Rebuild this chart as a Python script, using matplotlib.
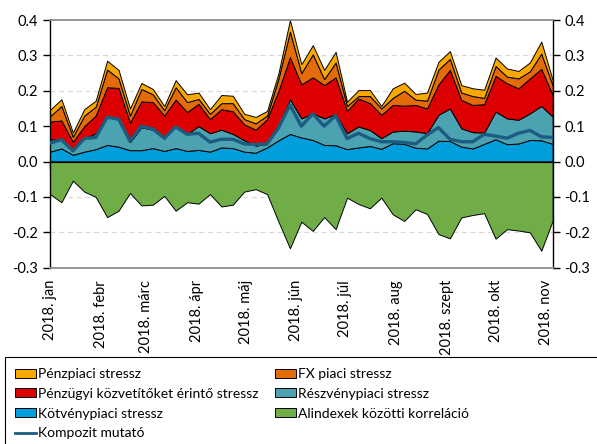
import matplotlib
matplotlib.use("Agg")
import matplotlib.pyplot as plt
import numpy as np
import pandas as pd
from matplotlib.patches import Patch, Rectangle
from matplotlib.lines import Line2D
import matplotlib.transforms as mtransforms

plt.rcParams["font.family"] = ["Lato", "DejaVu Sans"]

dates = pd.date_range("2018-01-05", periods=45, freq="7D")
month_ticks = pd.date_range("2018-01-05", periods=11, freq=pd.DateOffset(months=1))
month_labels = ["2018. jan", "2018. febr", "2018. márc", "2018. ápr", "2018. máj",
                "2018. jún", "2018. júl", "2018. aug", "2018. szept", "2018. okt", "2018. nov"]

kotveny = [0.028, 0.037, 0.019, 0.028, 0.035, 0.047, 0.042, 0.032, 0.032, 0.038, 0.030,
           0.038, 0.030, 0.033, 0.028, 0.040, 0.038, 0.028, 0.025, 0.040, 0.060, 0.078,
           0.068, 0.061, 0.047, 0.046, 0.035, 0.040, 0.044, 0.036, 0.052, 0.050, 0.039,
           0.037, 0.059, 0.058, 0.042, 0.037, 0.050, 0.063, 0.049, 0.051, 0.061, 0.060, 0.050]
reszveny = [0.035, 0.024, 0.014, 0.037, 0.045, 0.080, 0.078, 0.023, 0.065, 0.052, 0.035,
            0.062, 0.048, 0.067, 0.052, 0.050, 0.040, 0.032, 0.020, 0.010, 0.040, 0.098,
            0.054, 0.075, 0.075, 0.088, 0.045, 0.059, 0.045, 0.030, 0.033, 0.037, 0.046,
            0.043, 0.073, 0.092, 0.052, 0.046, 0.032, 0.078, 0.073, 0.067, 0.075, 0.097, 0.077]
kozvetito = [0.050, 0.055, 0.023, 0.035, 0.050, 0.083, 0.088, 0.055, 0.073, 0.078, 0.065,
             0.075, 0.062, 0.063, 0.040, 0.058, 0.064, 0.045, 0.045, 0.070, 0.100, 0.119,
             0.096, 0.102, 0.094, 0.104, 0.063, 0.079, 0.076, 0.066, 0.075, 0.071, 0.075,
             0.070, 0.086, 0.109, 0.080, 0.077, 0.080, 0.101, 0.099, 0.089, 0.099, 0.105, 0.061]
fx = [0.015, 0.041, 0.014, 0.030, 0.025, 0.050, 0.027, 0.020, 0.035, 0.022, 0.015,
      0.035, 0.028, 0.014, 0.015, 0.017, 0.023, 0.015, 0.018, 0.010, 0.035, 0.072,
      0.032, 0.065, 0.017, 0.042, 0.014, 0.007, 0.020, 0.018, 0.020, 0.042, 0.015,
      0.022, 0.042, 0.031, 0.021, 0.025, 0.018, 0.028, 0.019, 0.028, 0.020, 0.043, 0.027]
penzpiaci = [0.018, 0.019, 0.012, 0.018, 0.017, 0.025, 0.024, 0.020, 0.017, 0.015, 0.012,
             0.020, 0.022, 0.018, 0.013, 0.023, 0.021, 0.015, 0.018, 0.013, 0.015, 0.033,
             0.025, 0.026, 0.026, 0.030, 0.012, 0.017, 0.017, 0.007, 0.027, 0.023, 0.016,
             0.023, 0.022, 0.022, 0.021, 0.022, 0.023, 0.024, 0.023, 0.021, 0.025, 0.034, 0.015]
korrelacio = [-0.092, -0.115, -0.054, -0.085, -0.100, -0.157, -0.139, -0.089, -0.124, -0.122, -0.097,
              -0.139, -0.115, -0.119, -0.092, -0.127, -0.122, -0.085, -0.078, -0.092, -0.170, -0.245,
              -0.170, -0.196, -0.157, -0.191, -0.102, -0.120, -0.132, -0.102, -0.149, -0.168, -0.135,
              -0.148, -0.205, -0.217, -0.158, -0.151, -0.146, -0.218, -0.191, -0.195, -0.200, -0.252, -0.167]
kompozit = [0.052, 0.062, 0.030, 0.065, 0.068, 0.125, 0.120, 0.058, 0.100, 0.092, 0.066,
            0.098, 0.077, 0.080, 0.055, 0.063, 0.063, 0.050, 0.048, 0.050, 0.095, 0.160,
            0.100, 0.135, 0.100, 0.130, 0.065, 0.080, 0.065, 0.056, 0.056, 0.054, 0.050,
            0.075, 0.096, 0.063, 0.056, 0.056, 0.077, 0.072, 0.066, 0.080, 0.088, 0.070, 0.068]

C_PP = "#F9A800"
C_FX = "#E36C09"
C_KOZ = "#DC0000"
C_RESZ = "#4BA3B2"
C_KOTV = "#009EDB"
C_KORR = "#70AD47"
C_KOMP = "#1B5C80"

W, H = 597, 444
fig = plt.figure(figsize=(W / 100, H / 100), dpi=100)
ax = fig.add_axes([50 / W, 1 - 267.7 / H, 502.7 / W, 247.7 / H])

ax.stackplot(dates, kotveny, reszveny, kozvetito, fx, penzpiaci,
             colors=[C_KOTV, C_RESZ, C_KOZ, C_FX, C_PP],
             edgecolor="black", linewidth=0.7, zorder=2)
ax.fill_between(dates, korrelacio, 0, facecolor=C_KORR, edgecolor="black",
                linewidth=0.7, zorder=2)
ax.plot(dates, kompozit, color=C_KOMP, linewidth=2.4, zorder=3)

ax.set_xlim(dates[0], dates[-1])
ax.set_ylim(-0.3, 0.4)
yt = np.arange(-0.3, 0.41, 0.1)
ax.set_yticks(yt)
ax.set_yticklabels([f"{v:.1f}" for v in yt])
for v in [-0.2, -0.1, 0.1, 0.2, 0.3]:
    ax.axhline(v, color="#d9d9d9", linestyle=(0, (4, 3)), linewidth=0.9, zorder=1)

ax.spines["bottom"].set_position(("data", 0))
ax.spines["bottom"].set_zorder(4)
ax.spines["top"].set_color("#8c8c8c")
ax.spines["top"].set_linewidth(1.3)
ax.axhline(-0.3, color="#8c8c8c", linewidth=1.3, clip_on=False, zorder=4)
ax.spines["left"].set_linewidth(1.0)
ax.spines["right"].set_linewidth(1.0)

ax.set_xticks(month_ticks)
ax.tick_params(axis="x", direction="out", length=5, labelbottom=False, width=1.0)
ax.tick_params(axis="y", direction="out", length=5, left=True, right=True,
               labelleft=True, labelright=True, labelsize=10.5, width=1.0)

trans = mtransforms.blended_transform_factory(ax.transData, ax.transAxes)
for d, lab in zip(month_ticks, month_labels):
    ax.text(d, -0.05, lab, rotation=90, ha="center", va="top", fontsize=10.5,
            transform=trans)

handles = [
    Patch(facecolor=C_PP, edgecolor="black", linewidth=0.7),
    Patch(facecolor=C_KOZ, edgecolor="black", linewidth=0.7),
    Patch(facecolor=C_KOTV, edgecolor="black", linewidth=0.7),
    Line2D([0], [0], color=C_KOMP, linewidth=2),
    Patch(facecolor=C_FX, edgecolor="black", linewidth=0.7),
    Patch(facecolor=C_RESZ, edgecolor="black", linewidth=0.7),
    Patch(facecolor=C_KORR, edgecolor="black", linewidth=0.7),
]
labels = ["Pénzpiaci stressz", "Pénzügyi közvetítőket érintő stressz", "Kötvénypiaci stressz",
          "Kompozit mutató", "FX piaci stressz", "Részvénypiaci stressz",
          "Alindexek közötti korreláció"]
fig.legend(handles, labels, ncol=2, loc="upper left",
           bbox_to_anchor=(15 / W, 1 - 368 / H), frameon=False, fontsize=10,
           handlelength=1.5, handleheight=0.6, handletextpad=0.15,
           labelspacing=0.56, columnspacing=1.2, borderpad=0, borderaxespad=0)
fig.patches.append(Rectangle((5 / W, -0.05), 1.0, 1 - 357 / H + 0.05,
                             transform=fig.transFigure, fill=False,
                             edgecolor="black", linewidth=0.8))

fig.savefig("out.png", dpi=100, facecolor="white")
